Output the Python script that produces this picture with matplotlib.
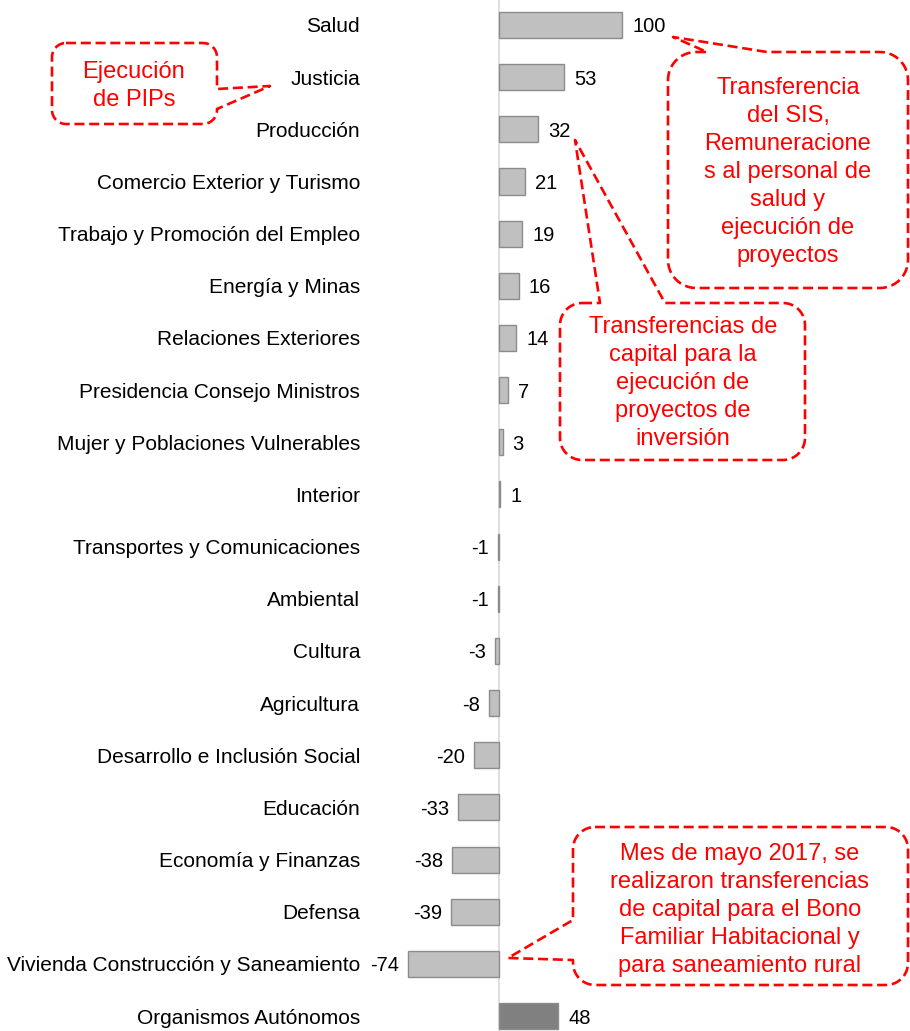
import numpy as np
import matplotlib
matplotlib.use("Agg")
import matplotlib.pyplot as plt
from matplotlib.patches import Polygon
import matplotlib.transforms as mtransforms

plt.rcParams['font.family'] = ['Liberation Sans', 'DejaVu Sans']

categories = ["Salud", "Justicia", "Producción", "Comercio Exterior y Turismo",
              "Trabajo y Promoción del Empleo", "Energía y Minas",
              "Relaciones Exteriores", "Presidencia Consejo Ministros",
              "Mujer y Poblaciones Vulnerables", "Interior",
              "Transportes y Comunicaciones", "Ambiental", "Cultura",
              "Agricultura", "Desarrollo e Inclusión Social", "Educación",
              "Economía y Finanzas", "Defensa",
              "Vivienda Construcción y Saneamiento", "Organismos Autónomos"]
values = [100, 53, 32, 21, 19, 16, 14, 7, 3, 1, -1, -1, -3, -8, -20, -33, -38, -39, -74, 48]
bar_colors = ["#C0C0C0"] * 19 + ["#808080"]

W, H = 910, 1031
fig = plt.figure(figsize=(W / 100, H / 100), dpi=100)
ax = fig.add_axes([0, 0, 1, 1])

# scale: zero at x=499 px, 1.23 px per unit; rows 52.16 px apart starting at y=25
ppu = 1.23
ax.set_xlim(-499 / ppu, (W - 499) / ppu)
ax.set_ylim((H - 25) / 52.16, -25 / 52.16)
ax.axis('off')

y = np.arange(len(categories))
ax.axvline(0, color='#D9D9D9', lw=1.2, zorder=1)
ax.barh(y, values, height=0.5, color=bar_colors, edgecolor='#8C8C8C', lw=1, zorder=2)

lab_tr = mtransforms.blended_transform_factory(fig.transFigure, ax.transData)
for i, (c, v) in enumerate(zip(categories, values)):
    ax.text(360 / W, i, c, transform=lab_tr, ha='right', va='center_baseline', fontsize=15)
    if v >= 0:
        ax.annotate(str(v), (v, i), xytext=(10, 0), textcoords='offset pixels',
                    ha='left', va='center_baseline', fontsize=14.5)
    else:
        ax.annotate(str(v), (v, i), xytext=(-9, 0), textcoords='offset pixels',
                    ha='right', va='center_baseline', fontsize=14.5)

# overlay in pixel coordinates for the callouts
ov = fig.add_axes([0, 0, 1, 1], facecolor='none')
ov.set_xlim(0, W)
ov.set_ylim(H, 0)
ov.axis('off')


def arc(cx, cy, r, a0, a1):
    t = np.radians(np.linspace(a0, a1, 12))
    return list(zip(cx + r * np.cos(t), cy + r * np.sin(t)))


def callout(x0, y0, x1, y1, r, side, a, b, tip):
    pts = [(x0 + r, y0)]
    if side == 'top':
        pts += [(a, y0), tip, (b, y0)]
    pts += [(x1 - r, y0)]
    pts += arc(x1 - r, y0 + r, r, -90, 0)
    if side == 'right':
        pts += [(x1, a), tip, (x1, b)]
    pts += arc(x1 - r, y1 - r, r, 0, 90)
    pts += arc(x0 + r, y1 - r, r, 90, 180)
    if side == 'left':
        pts += [(x0, b), tip, (x0, a)]
    pts += arc(x0 + r, y0 + r, r, 180, 270)
    ov.add_patch(Polygon(pts, closed=True, fill=False, edgecolor='#FF0000',
                         lw=1.9, linestyle=(0, (3.8, 1.8)), joinstyle='round'))


red = '#FF0000'
callout(52, 43, 217, 124, 14, 'right', 89, 109, (270, 86))
ov.text(134, 86, "Ejecución\nde PIPs", color=red, fontsize=17, ha='center', va='center',
        linespacing=1.3)

callout(668, 52, 908, 288, 28, 'top', 707, 767, (673, 37))
ov.text(788, 172, "Transferencia\ndel SIS,\nRemuneracione\ns al personal de\nsalud y\nejecución de\nproyectos",
        color=red, fontsize=17, ha='center', va='center', linespacing=1.36)

callout(560, 303, 805, 460, 22, 'top', 600, 665, (575, 140))
ov.text(683, 383, "Transferencias de\ncapital para la\nejecución de\nproyectos de\ninversión",
        color=red, fontsize=17, ha='center', va='center', linespacing=1.36)

callout(573, 827, 908, 985, 22, 'left', 920, 960, (508, 958))
ov.text(740, 910, "Mes de mayo 2017, se\nrealizaron transferencias\nde capital para el Bono\nFamiliar Habitacional y\npara saneamiento rural",
        color=red, fontsize=17, ha='center', va='center', linespacing=1.36)

fig.savefig("out.png", dpi=100)
